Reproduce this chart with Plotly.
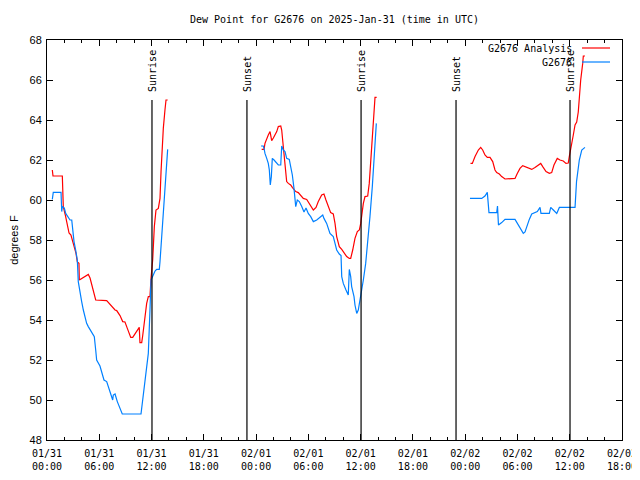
import plotly.graph_objects as go
import pandas as pd

BASE = pd.Timestamp("2025-01-31 00:00")

# hours since 2025-01-31 00:00 UTC ; values in degrees F
an_h = [0.61, 0.69, 1.76, 1.87, 2.10, 2.33, 2.53, 2.75, 2.90, 3.13, 3.33, 3.48, 3.67, 3.71, 3.98, 4.36, 4.74, 4.94,
        5.13, 5.39, 5.59, 6.85, 7.43, 7.81, 8.00, 8.38, 8.69, 8.95, 9.22, 9.61, 9.84, 10.30, 10.59, 10.67, 10.87,
        10.98, 11.17, 11.44, 11.63, 11.82, 11.94, 12.13, 12.32, 12.51, 12.78, 12.97, 13.09, 13.23, 13.35, 13.54,
        13.66, 13.85,
        None,
        24.64, 24.91, 25.02, 25.22, 25.40, 25.60, 25.79, 25.98, 26.17, 26.37, 26.55, 26.83, 26.94, 27.12, 27.24,
        27.40, 27.51, 27.70, 27.97, 28.16, 28.35, 28.55, 28.84, 29.12, 29.42, 29.81, 30.19, 30.57, 30.88, 31.14,
        31.53, 31.79, 32.02, 32.29, 32.56, 32.86, 33.06, 33.25, 33.55, 33.83, 34.09, 34.40, 34.70, 34.86, 35.09,
        35.35, 35.62, 35.85, 36.01, 36.12, 36.31, 36.50, 36.81, 36.99, 37.19, 37.34, 37.53, 37.65, 37.84,
        None,
        48.61, 48.82, 49.13, 49.51, 49.78, 50.01, 50.27, 50.54, 50.85, 51.16, 51.42, 51.62, 51.92, 52.19, 52.57,
        53.07, 53.72, 53.98, 54.29, 54.60, 54.87, 55.25, 55.64, 56.01, 56.39, 56.67, 56.90, 57.28, 57.66, 57.93,
        58.19, 58.57, 58.88, 59.26, 59.57, 59.83, 59.95, 60.03, 60.23, 60.41, 60.61, 60.80, 60.98, 61.10, 61.26,
        61.49, 61.56, 61.75]
an_v = [61.5, 61.2, 61.2, 59.67, 59.25, 58.85, 58.35, 58.25, 58.0, 57.6, 57.33, 56.9, 56.83, 56.0, 56.08, 56.2,
        56.28, 56.1, 55.75, 55.25, 55.0, 54.97, 54.7, 54.5, 54.47, 54.22, 53.92, 53.9, 53.58, 53.13, 53.13, 53.42,
        53.63, 52.87, 52.87, 53.2, 54.0, 54.83, 55.17, 55.17, 56.08, 57.0, 58.67, 59.5, 59.58, 60.08, 61.42, 62.75,
        63.58, 64.5, 65.0, 65.0,
        None,
        62.53, 62.53, 62.83, 63.08, 63.25, 63.42, 62.97, 63.1, 63.25, 63.42, 63.67, 63.7, 63.5, 62.67, 62.0, 61.5,
        60.92, 60.83, 60.75, 60.63, 60.5, 60.42, 60.37, 60.25, 60.08, 60.03, 59.75, 59.5, 59.63, 59.92, 60.25, 60.3,
        60.0, 59.67, 59.37, 59.3, 58.83, 58.17, 57.67, 57.53, 57.37, 57.17, 57.08, 57.08, 57.5, 58.08, 58.42, 58.5,
        58.83, 59.33, 59.83, 60.17, 60.2, 60.83, 62.17, 63.08, 64.67, 65.13, 65.13,
        None,
        61.83, 61.83, 62.17, 62.5, 62.63, 62.5, 62.25, 62.13, 62.13, 61.92, 61.5, 61.37, 61.3, 61.17, 61.05, 61.05,
        61.08, 61.33, 61.58, 61.72, 61.67, 61.58, 61.53, 61.63, 61.75, 61.83, 61.67, 61.42, 61.33, 61.37, 61.75,
        62.08, 62.0, 61.95, 61.83, 61.85, 62.17, 62.4, 62.75, 63.25, 63.75, 63.9, 64.4, 65.2, 66.0, 66.83, 67.2,
        67.2]

obs_h = [0.61, 0.72, 1.61, 1.69, 1.76, 1.99, 2.15, 2.38, 2.64, 2.84, 2.95, 3.10, 3.29, 3.48, 3.59, 3.79, 3.98,
         4.17, 4.36, 4.55, 4.74, 5.13, 5.43, 5.59, 5.70, 6.08, 6.28, 6.54, 6.85, 7.04, 7.31, 7.54, 7.61, 7.81,
         8.07, 8.38, 8.64, 10.79, 10.98, 11.25, 11.44, 11.63, 11.82, 11.94, 12.20, 12.40, 12.59, 12.89, 12.97,
         13.17, 13.35, 13.54, 13.74, 13.85,
         None,
         24.56, 24.83, 24.91, 25.02, 25.22, 25.40, 25.52, 25.63, 25.75, 25.86, 26.06, 26.29, 26.55, 26.83, 26.94,
         27.12, 27.32, 27.51, 27.81, 27.97, 28.16, 28.35, 28.47, 28.55, 28.73, 28.96, 29.24, 29.50, 29.73, 29.99,
         30.27, 30.57, 30.96, 31.34, 31.65, 31.79, 32.10, 32.48, 32.86, 33.06, 33.25, 33.55, 33.75, 33.83, 34.01,
         34.32, 34.58, 34.70, 34.86, 34.97, 35.24, 35.35, 35.55, 35.73, 35.93, 36.12, 36.31, 36.58, 36.81, 37.07,
         37.34, 37.57, 37.80,
         None,
         48.55, 49.90, 50.27, 50.54, 50.73, 51.62, 51.71, 51.82, 52.19, 52.57, 53.72, 53.98, 54.29, 54.67, 54.87,
         55.06, 55.36, 55.64, 56.01, 56.28, 56.59, 56.70, 57.66, 57.82, 58.12, 58.51, 58.81, 60.61, 60.78, 60.92,
         61.10, 61.38, 61.64, 61.75]
obs_v = [60.03, 60.38, 60.38, 59.42, 59.67, 59.6, 59.33, 59.17, 59.0, 59.0, 58.42, 57.92, 57.5, 57.0, 55.92, 55.33,
         54.92, 54.5, 54.17, 53.83, 53.67, 53.42, 53.17, 52.5, 52.0, 51.7, 51.42, 51.0, 50.92, 50.67, 50.42, 50.0,
         50.25, 50.3, 49.92, 49.58, 49.3, 49.3, 50.0, 50.83, 51.83, 52.33, 54.5, 56.0, 56.25, 56.45, 56.53, 56.53,
         56.92, 58.17, 59.33, 60.83, 61.83, 62.53,
         None,
         62.7, 62.7, 62.58, 62.33, 62.08, 61.83, 61.5, 60.75, 61.17, 62.08, 62.0, 61.87, 61.75, 61.75, 62.7, 62.5,
         62.42, 62.08, 62.03, 61.67, 61.25, 60.58, 60.08, 59.67, 60.0, 59.92, 59.67, 59.4, 59.6, 59.33, 59.17,
         58.92, 59.0, 59.15, 59.25, 59.08, 58.83, 58.33, 58.17, 57.83, 57.5, 57.3, 57.22, 56.17, 55.83, 55.5,
         55.25, 56.53, 56.17, 55.67, 55.17, 54.75, 54.33, 54.5, 55.0, 55.37, 56.0, 56.83, 57.83, 59.17, 60.67,
         62.17, 63.83,
         None,
         60.08, 60.08, 60.2, 60.38, 59.37, 59.37, 59.7, 58.75, 58.87, 59.03, 59.03, 58.83, 58.58, 58.33, 58.4,
         58.67, 59.03, 59.3, 59.37, 59.42, 59.63, 59.33, 59.33, 59.63, 59.5, 59.33, 59.63, 59.63, 60.92, 61.42,
         62.0, 62.5, 62.63, 62.63]

sun_times = ["2025-01-31 12:03", "2025-01-31 22:57", "2025-02-01 12:03", "2025-02-01 22:57", "2025-02-02 12:02"]
sun_labels = ["Sunrise", "Sunset", "Sunrise", "Sunset", "Sunrise"]

tick_times = ["2025-01-31 00:00", "2025-01-31 06:00", "2025-01-31 12:00", "2025-01-31 18:00",
              "2025-02-01 00:00", "2025-02-01 06:00", "2025-02-01 12:00", "2025-02-01 18:00",
              "2025-02-02 00:00", "2025-02-02 06:00", "2025-02-02 12:00", "2025-02-02 18:00"]
tick_text = ["01/31<br>00:00", "01/31<br>06:00", "01/31<br>12:00", "01/31<br>18:00",
             "02/01<br>00:00", "02/01<br>06:00", "02/01<br>12:00", "02/01<br>18:00",
             "02/02<br>00:00", "02/02<br>06:00", "02/02<br>12:00", "02/02<br>18:00"]

series_names = ["G2676 Analysis", "G2676"]
series_colors = ["#ff0000", "#0080ff"]


def to_time(hours):
    return [None if h is None else BASE + pd.Timedelta(hours=h) for h in hours]


MONO = "DejaVu Sans Mono"
# the page body adds an 8px offset; the figure is sized so the plot lands where the reference has it
W, H = 632, 472
PL, PR, PT, PB = 39, 614, 32, 432

fig = go.Figure()
fig.add_trace(go.Scatter(x=to_time(an_h), y=an_v, mode="lines", name=series_names[0],
                         line=dict(color=series_colors[0], width=1.2), connectgaps=False, showlegend=False))
fig.add_trace(go.Scatter(x=to_time(obs_h), y=obs_v, mode="lines", name=series_names[1],
                         line=dict(color=series_colors[1], width=1.2), connectgaps=False, showlegend=False))

for t, lab in zip(sun_times, sun_labels):
    fig.add_shape(type="line", x0=t, x1=t, y0=48, y1=65, xref="x", yref="y",
                  line=dict(color="black", width=1.2))
    fig.add_annotation(x=t, y=65.3, xref="x", yref="y", text=lab, textangle=-90, showarrow=False,
                       xanchor="center", yanchor="bottom", font=dict(family=MONO, size=10, color="black"))

# gnuplot-style legend (text right, line sample at right)
for i, (nm, col) in enumerate(zip(series_names, series_colors)):
    ypix = 48 + 14 * i
    yp = 1 - (ypix - 40) / 400
    fig.add_annotation(x=(574 - 47) / 575, y=yp, xref="paper", yref="paper", text=nm, showarrow=False,
                       xanchor="right", yanchor="middle", font=dict(family=MONO, size=10, color="black"))
    fig.add_shape(type="line", x0=(582 - 47) / 575, x1=(610 - 47) / 575, y0=yp, y1=yp,
                  xref="paper", yref="paper", line=dict(color=col, width=1.2))

fig.update_layout(
    width=W, height=H,
    margin=dict(l=PL, r=W - PR, t=PT, b=H - PB, autoexpand=False),
    paper_bgcolor="white", plot_bgcolor="white",
    title=dict(text="Dew Point for G2676 on 2025-Jan-31 (time in UTC)", x=((PL + PR) / 2) / W,
               xanchor="center", y=1 - 11 / H, yanchor="middle", automargin=False,
               font=dict(family=MONO, size=10, color="black")),
    showlegend=False,
)
fig.update_xaxes(
    type="date", range=["2025-01-31 00:00", "2025-02-02 18:00"], automargin=False,
    tickvals=tick_times, ticktext=tick_text, tickangle=0,
    ticks="inside", ticklen=6, tickcolor="black", tickwidth=1, ticklabelstandoff=4,
    minor=dict(dtick=2 * 3600 * 1000, ticks="inside", ticklen=3, tickcolor="black", showgrid=False),
    showline=True, linecolor="black", linewidth=1, mirror="allticks",
    showgrid=False, zeroline=False,
    tickfont=dict(family=MONO, size=10, color="black"),
)
fig.update_yaxes(
    range=[48, 68], dtick=2, tick0=48, automargin=False,
    ticks="inside", ticklen=6, tickcolor="black", tickwidth=1, ticklabelstandoff=2,
    showline=True, linecolor="black", linewidth=1, mirror="allticks",
    showgrid=False, zeroline=False,
    tickfont=dict(family="Liberation Sans", size=11, color="black"),
    title=dict(text="degrees F", font=dict(family="Liberation Sans", size=11, color="black"), standoff=24),
)

fig.write_html("out.html")
